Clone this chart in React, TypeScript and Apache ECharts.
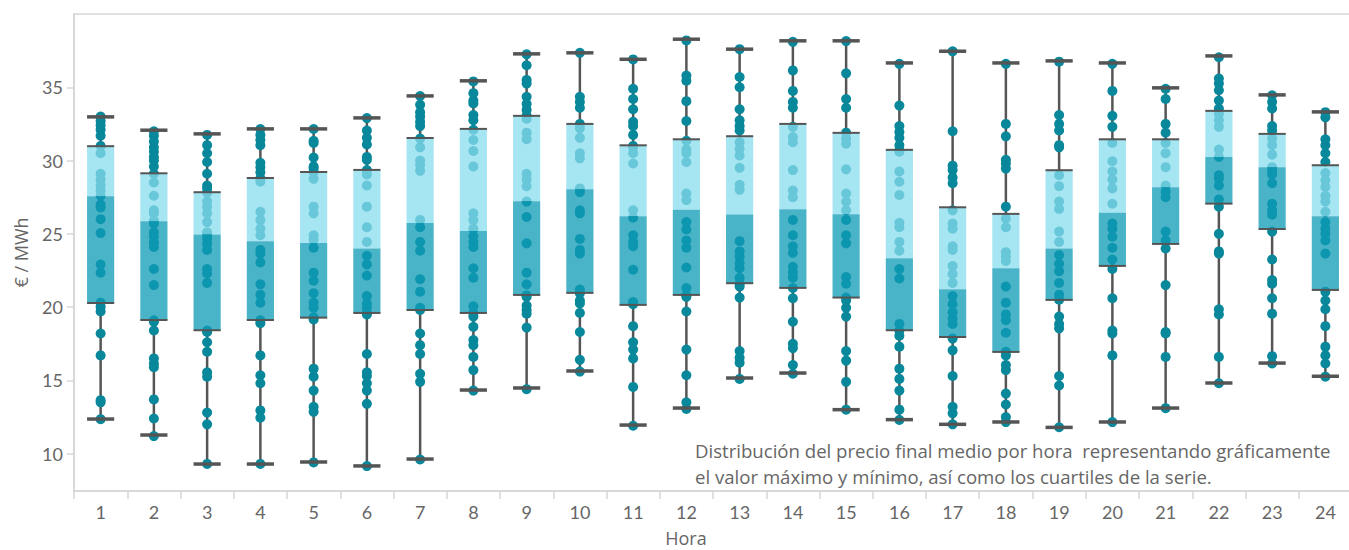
import React, { useEffect, useRef } from "react";
import * as echarts from "echarts";

const hours = ["1","2","3","4","5","6","7","8","9","10","11","12","13","14","15","16","17","18","19","20","21","22","23","24"];

const maxV = [32.98, 32.07, 31.82, 32.16, 32.16, 32.91, 34.41, 35.44, 37.28, 37.35, 36.91, 38.28, 37.6, 38.17, 38.17, 36.66, 37.46, 36.66, 36.8, 36.66, 34.96, 37.14, 34.48, 33.32];
const q3V = [30.98, 29.13, 27.84, 28.81, 29.22, 29.36, 31.54, 32.16, 33.05, 32.5, 31.04, 31.45, 31.66, 32.5, 31.89, 30.73, 26.81, 26.36, 29.34, 31.45, 31.45, 33.39, 31.82, 29.68];
const medV = [27.56, 25.86, 24.95, 24.49, 24.38, 24.0, 25.74, 25.2, 27.22, 28.04, 26.2, 26.65, 26.31, 26.68, 26.33, 23.33, 21.21, 22.65, 24.0, 26.43, 28.18, 30.25, 29.54, 26.2];
const q1V = [20.28, 19.12, 18.42, 19.12, 19.28, 19.6, 19.8, 19.6, 20.83, 20.97, 20.15, 20.83, 21.63, 21.31, 20.65, 18.42, 17.96, 16.94, 20.49, 22.81, 24.31, 27.06, 25.33, 21.17];
const minV = [12.36, 11.27, 9.29, 9.29, 9.43, 9.16, 9.63, 14.34, 14.48, 15.64, 11.95, 13.11, 15.16, 15.5, 13.0, 12.32, 12.0, 12.16, 11.79, 12.16, 13.11, 14.82, 16.18, 15.28];

const h1 = [33.0, 32.7, 32.4, 32.1, 31.7, 31.0, 30.5, 29.1, 28.7, 28.3, 27.95, 27.6, 27.0, 26.8, 26.0, 25.05, 22.9, 22.35, 20.3, 20.0, 19.7, 18.2, 16.7, 13.65, 13.5, 12.35];
const h2 = [32.0, 31.7, 31.3, 30.9, 30.6, 30.25, 30.0, 29.6, 29.1, 28.5, 27.6, 26.6, 26.4, 25.9, 25.7, 25.1, 24.8, 24.4, 24.1, 22.6, 21.5, 19.1, 19.0, 18.4, 16.5, 16.15, 15.9, 13.7, 12.4, 11.2];
const h3 = [31.75, 31.05, 30.5, 29.9, 29.1, 28.3, 28.1, 27.8, 27.2, 26.85, 26.4, 25.8, 25.1, 24.95, 24.65, 24.3, 23.9, 22.6, 22.3, 21.65, 18.4, 18.3, 17.6, 16.95, 15.55, 15.25, 12.8, 12.0, 9.3];
const h4 = [32.15, 31.75, 31.4, 31.05, 29.85, 29.55, 29.2, 28.8, 28.55, 26.5, 25.95, 25.35, 24.9, 23.9, 23.65, 23.05, 21.55, 20.85, 20.3, 19.1, 18.9, 16.7, 15.35, 14.8, 12.95, 12.45, 9.3];
const h5 = [32.15, 31.35, 31.2, 30.2, 29.6, 29.45, 29.2, 28.75, 26.85, 26.4, 24.9, 24.6, 24.05, 22.35, 21.8, 20.95, 20.3, 19.95, 19.3, 19.15, 15.8, 15.25, 14.3, 13.2, 12.85, 9.4];
const h6 = [32.9, 32.05, 31.55, 31.1, 30.25, 30.05, 29.35, 29.05, 28.3, 26.85, 25.45, 24.45, 23.5, 22.9, 22.15, 20.75, 20.25, 19.95, 19.6, 19.5, 16.8, 15.55, 15.3, 14.8, 14.3, 13.4, 9.15];
const h7 = [34.4, 33.8, 33.3, 33.0, 32.65, 32.35, 31.5, 30.9, 30.0, 29.7, 29.3, 25.95, 25.45, 24.45, 23.85, 21.9, 21.05, 19.95, 19.8, 18.2, 17.4, 16.8, 15.45, 14.9, 9.6];
const h8 = [35.4, 34.6, 34.1, 33.9, 33.1, 32.75, 32.1, 31.4, 30.65, 29.6, 26.4, 25.95, 25.35, 24.85, 24.45, 24.1, 22.65, 22.0, 20.05, 19.6, 19.35, 18.65, 17.75, 17.4, 16.6, 15.7, 14.3];
const h9 = [37.25, 36.5, 35.5, 35.25, 34.35, 33.85, 33.45, 33.05, 32.85, 31.9, 31.45, 29.1, 28.7, 28.25, 27.2, 26.15, 24.35, 22.35, 21.55, 20.8, 20.7, 20.1, 19.8, 19.55, 18.6, 14.4];
const h10 = [37.35, 34.35, 34.0, 33.6, 32.5, 32.2, 31.55, 30.5, 30.15, 28.1, 27.85, 26.6, 26.4, 24.65, 23.9, 23.65, 21.2, 20.95, 20.45, 20.25, 19.6, 18.3, 16.4, 15.6];
const h11 = [36.9, 34.9, 34.2, 33.5, 32.65, 32.35, 31.75, 31.0, 30.9, 30.5, 29.8, 26.6, 26.1, 24.9, 24.45, 24.15, 22.55, 20.35, 20.2, 18.7, 17.6, 17.1, 16.5, 14.55, 11.9];
const h12 = [38.2, 35.8, 35.45, 34.05, 32.7, 31.35, 30.75, 30.5, 29.9, 27.75, 27.3, 25.8, 25.3, 24.55, 24.05, 22.7, 21.3, 20.8, 20.7, 19.7, 17.1, 15.35, 13.5, 13.05];
const h13 = [37.6, 35.7, 35.0, 33.5, 32.75, 32.35, 32.05, 31.25, 30.8, 30.35, 29.5, 28.35, 28.0, 24.5, 23.8, 23.45, 23.0, 22.65, 22.0, 21.6, 21.4, 20.65, 17.0, 16.55, 16.2, 15.1];
const h14 = [38.1, 36.15, 34.75, 34.0, 33.6, 32.3, 31.6, 31.25, 29.35, 27.95, 27.5, 25.95, 24.9, 24.15, 23.7, 22.75, 22.35, 22.0, 21.3, 20.6, 19.0, 17.5, 17.2, 16.05, 15.45];
const h15 = [38.15, 35.95, 34.2, 33.6, 31.9, 31.5, 31.15, 29.4, 27.75, 27.2, 26.6, 25.95, 24.9, 24.35, 22.05, 21.6, 20.65, 20.45, 19.95, 19.35, 17.0, 16.35, 14.9, 13.0];
const h16 = [36.6, 33.75, 32.35, 31.95, 31.55, 31.05, 30.7, 30.6, 29.25, 28.55, 27.65, 25.75, 25.45, 24.45, 23.85, 22.6, 21.95, 18.85, 18.4, 18.05, 17.3, 15.8, 15.1, 14.3, 13.0, 12.3];
const h17 = [37.45, 32.0, 29.65, 29.35, 28.85, 28.45, 26.6, 25.7, 25.35, 24.15, 23.9, 22.8, 22.25, 21.65, 20.75, 20.2, 19.65, 19.2, 18.85, 17.85, 17.05, 15.3, 13.2, 12.75, 12.0];
const h18 = [36.6, 32.5, 31.65, 30.05, 29.8, 29.45, 26.85, 26.05, 25.45, 23.75, 23.45, 23.15, 21.4, 20.3, 19.5, 19.1, 18.25, 16.95, 16.7, 16.05, 15.7, 14.1, 13.35, 12.5, 12.15];
const h19 = [36.75, 33.1, 32.5, 32.05, 31.05, 30.9, 29.0, 28.25, 27.2, 26.7, 25.15, 24.45, 23.55, 22.95, 22.45, 21.65, 20.85, 20.5, 19.35, 18.85, 18.55, 15.3, 14.65, 11.8];
const h20 = [36.6, 34.75, 33.05, 32.3, 31.2, 29.95, 29.25, 28.7, 28.1, 27.05, 25.7, 25.35, 24.8, 24.05, 23.25, 22.6, 20.6, 18.4, 18.2, 16.7, 12.15];
const h21 = [34.9, 34.2, 32.5, 31.9, 31.2, 30.5, 29.55, 28.3, 27.85, 27.5, 25.15, 24.55, 24.0, 21.5, 18.3, 18.2, 16.6, 13.1];
const h22 = [37.05, 35.6, 35.25, 34.8, 34.1, 33.55, 33.2, 32.75, 32.3, 30.75, 30.25, 29.0, 28.75, 28.3, 27.35, 26.85, 25.0, 23.8, 23.65, 19.85, 19.5, 16.6, 14.8];
const h23 = [34.45, 34.0, 33.55, 32.35, 32.05, 31.5, 31.05, 30.4, 29.55, 29.35, 29.05, 28.45, 27.05, 26.6, 26.3, 25.15, 23.25, 21.85, 21.6, 20.6, 19.55, 16.65, 16.15];
const h24 = [33.3, 32.95, 31.45, 31.05, 30.5, 29.9, 29.15, 28.65, 28.2, 27.6, 27.2, 26.5, 25.8, 25.35, 25.0, 24.55, 23.65, 21.05, 20.45, 19.85, 18.7, 17.3, 16.7, 16.15, 15.25];

const dotsByHour = [h1, h2, h3, h4, h5, h6, h7, h8, h9, h10, h11, h12, h13, h14, h15, h16, h17, h18, h19, h20, h21, h22, h23, h24];

const xAxisTitle = "Hora";
const yAxisTitle = "€ / MWh";
const noteLine1 = "Distribución del precio final medio por hora  representando gráficamente";
const noteLine2 = "el valor máximo y mínimo, así como los cuartiles de la serie.";

const FONT = "Lato, 'Open Sans', sans-serif";
const NOTE_FONT = "'Open Sans', Lato, sans-serif";
const TXT = "#666666";
const AX = "#d6d6d6";

export default function App() {
  const ref = useRef<HTMLDivElement>(null);
  useEffect(() => {
    if (!ref.current) return;
    const chart = echarts.init(ref.current, null, { renderer: "svg" });
    const boxData = hours.map((_, i) => [i, minV[i], q1V[i], medV[i], q3V[i], maxV[i]]);
    const dotData: number[][] = [];
    dotsByHour.forEach((arr, i) => arr.forEach((v) => dotData.push([i, v])));

    chart.setOption({
      animation: false,
      grid: {
        left: 74, right: -3, top: 14, bottom: 59,
        outerBoundsMode: "none",
        containLabel: false,
        show: true, borderColor: AX, borderWidth: 1.5,
      },
      xAxis: {
        type: "category",
        data: hours,
        boundaryGap: true,
        axisLine: { lineStyle: { color: AX, width: 1.5 } },
        axisTick: { show: true, length: 8, lineStyle: { color: AX, width: 1.5 } },
        axisLabel: { fontSize: 18, color: TXT, margin: 12, fontFamily: FONT },
        splitLine: { show: false },
      },
      yAxis: {
        type: "value",
        min: 7.45,
        max: 40,
        axisLine: { show: true, lineStyle: { color: AX, width: 1.5 } },
        axisTick: { show: true, length: 7, lineStyle: { color: AX, width: 1.5 } },
        axisLabel: { fontSize: 18, color: TXT, margin: 11, fontFamily: FONT, showMinLabel: false, showMaxLabel: false },
        splitLine: { show: false },
        name: yAxisTitle,
        nameLocation: "middle",
        nameGap: 44,
        nameTextStyle: { fontSize: 18, color: TXT, fontFamily: NOTE_FONT },
      },
      graphic: [
        {
          type: "text",
          left: 695,
          top: 437,
          z: 100,
          style: {
            text: noteLine1 + "\n" + noteLine2,
            font: "18.6px " + NOTE_FONT,
            fill: TXT,
            lineHeight: 26,
          },
        },
        {
          type: "text",
          x: 686,
          y: 538,
          z: 100,
          style: {
            text: xAxisTitle,
            font: "18px " + NOTE_FONT,
            fill: TXT,
            align: "center",
            verticalAlign: "middle",
            lineHeight: 18,
          },
        },
      ],
      series: [
        {
          type: "custom",
          name: "whisker",
          z: 1,
          data: boxData,
          encode: { x: 0, y: [1, 2, 3, 4, 5] },
          renderItem: (params: any, api: any) => {
            const x = api.value(0);
            const pMin = api.coord([x, api.value(1)]);
            const pQ1 = api.coord([x, api.value(2)]);
            const pQ3 = api.coord([x, api.value(4)]);
            const pMax = api.coord([x, api.value(5)]);
            const cx = pQ1[0];
            const st = { stroke: "#555555", lineWidth: 2.5 };
            return {
              type: "group",
              children: [
                { type: "line", shape: { x1: cx, y1: pQ3[1], x2: cx, y2: pMax[1] }, style: st },
                { type: "line", shape: { x1: cx, y1: pQ1[1], x2: cx, y2: pMin[1] }, style: st },
              ],
            };
          },
        },
        {
          type: "scatter",
          name: "dots",
          z: 2,
          symbol: "circle",
          symbolSize: 10,
          itemStyle: { color: "#08889a", opacity: 1 },
          data: dotData,
        },
        {
          type: "custom",
          name: "box",
          z: 3,
          data: boxData,
          encode: { x: 0, y: [1, 2, 3, 4, 5] },
          renderItem: (params: any, api: any) => {
            const x = api.value(0);
            const pMin = api.coord([x, api.value(1)]);
            const pQ1 = api.coord([x, api.value(2)]);
            const pMed = api.coord([x, api.value(3)]);
            const pQ3 = api.coord([x, api.value(4)]);
            const pMax = api.coord([x, api.value(5)]);
            const w = api.size([1, 0])[0] * 0.51;
            const cx = pMed[0];
            const l = cx - w / 2;
            const r = cx + w / 2;
            const edge = { stroke: "#555555", lineWidth: 2 };
            const cap = { stroke: "#555555", lineWidth: 3.5 };
            return {
              type: "group",
              children: [
                { type: "rect", shape: { x: l, y: pQ3[1], width: w, height: pMed[1] - pQ3[1] }, style: { fill: "rgba(136,220,238,0.75)" } },
                { type: "rect", shape: { x: l, y: pMed[1], width: w, height: pQ1[1] - pMed[1] }, style: { fill: "rgba(16,155,182,0.76)" } },
                { type: "line", shape: { x1: l, y1: pQ3[1], x2: r, y2: pQ3[1] }, style: edge },
                { type: "line", shape: { x1: l, y1: pQ1[1], x2: r, y2: pQ1[1] }, style: edge },
                { type: "line", shape: { x1: l, y1: pMax[1], x2: r, y2: pMax[1] }, style: cap },
                { type: "line", shape: { x1: l, y1: pMin[1], x2: r, y2: pMin[1] }, style: cap },
              ],
            };
          },
        },
      ],
    });
    return () => chart.dispose();
  }, []);
  return (
    <div
      ref={ref}
      style={{ position: "absolute", left: 0, top: 0, width: 1349, height: 550, background: "#ffffff" }}
    />
  );
}
